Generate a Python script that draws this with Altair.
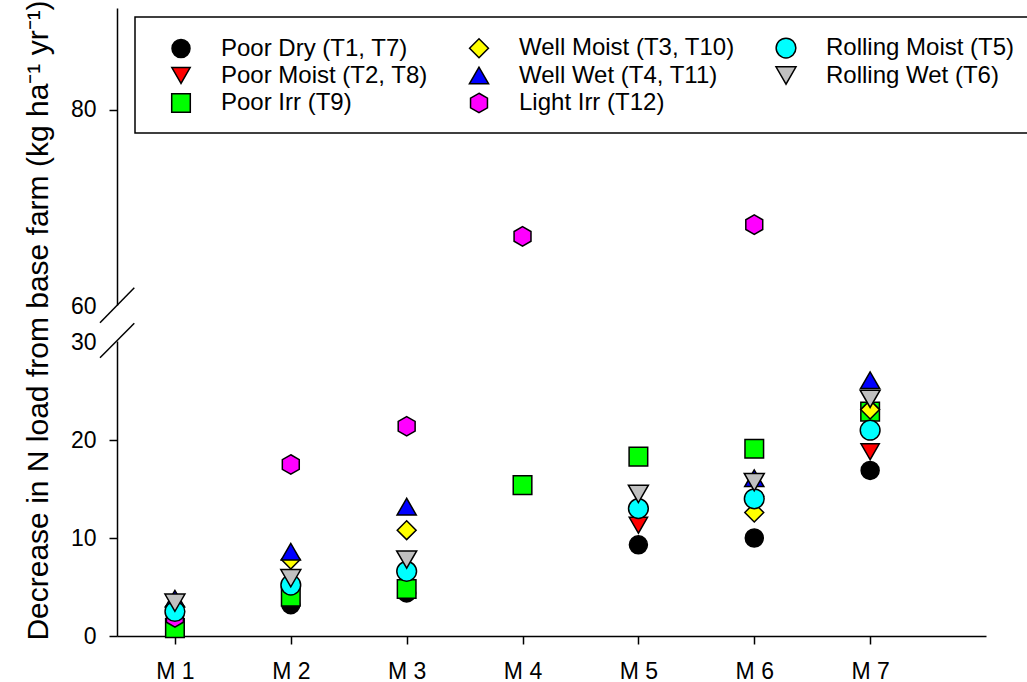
import json
import altair as alt
import pandas as pd

# Management scenarios on the x axis
stages = ["M 1", "M 2", "M 3", "M 4", "M 5", "M 6", "M 7"]

# Farm types (legend entries), in plotting order
series = [
    "Poor Dry (T1, T7)",
    "Poor Moist (T2, T8)",
    "Poor Irr (T9)",
    "Well Moist (T3, T10)",
    "Well Wet (T4, T11)",
    "Light Irr (T12)",
    "Rolling Moist (T5)",
    "Rolling Wet (T6)",
]

# Decrease in N load (kg/ha/yr) per scenario; None = not reported
poor_dry = [None, 3.2, 4.4, None, 9.3, 10.0, 16.9]
poor_moist = [None, None, None, None, 11.3, 13.4, 18.8]
poor_irr = [0.8, 4.0, 4.8, 15.4, 18.3, 19.1, 22.9]
well_moist = [3.0, 7.8, 10.8, None, None, 12.6, 23.1]
well_wet = [3.8, 8.6, 13.2, None, None, 16.1, 26.1]
light_irr = [1.9, 17.5, 21.4, 67.1, None, 68.3, None]
rolling_moist = [2.5, 5.2, 6.6, None, 13.0, 14.0, 21.0]
rolling_wet = [3.4, 5.9, 7.8, None, 14.5, 15.7, 24.2]

values = [poor_dry, poor_moist, poor_irr, well_moist, well_wet,
          light_irr, rolling_moist, rolling_wet]

fills = ["#000000", "#ff0000", "#00ff00", "#ffff00", "#0000ff",
         "#ff00ff", "#00ffff", "#c0c0c0"]
hexagon = "M0,-1L0.87,-0.5L0.87,0.5L0,1L-0.87,0.5L-0.87,-0.5Z"
shapes = ["circle", "triangle-down", "square", "diamond", "triangle-up",
          hexagon, "circle", "triangle-down"]
sizes = [324, 400, 256, 430, 400, 361, 324, 400]

rows = []
for name, vals in zip(series, values):
    for i, v in enumerate(vals):
        if v is not None:
            rows.append({"series": name, "stage": i + 1, "value": v})
df = pd.DataFrame(rows)

W, H = 869, 628
# broken y axis: 0-30 and 60-90 share the same units per pixel
y_scale = alt.Scale(domain=[0, 30, 60, 90.4], range=[H, 334, 298, 0])
x_scale = alt.Scale(domain=[0.5, 8], nice=False, zero=False)

color_scale = alt.Scale(domain=series, range=fills)
shape_scale = alt.Scale(domain=series, range=shapes)
size_scale = alt.Scale(domain=series, range=sizes)

# three columns, filled top to bottom
legend = alt.Legend(
    title=None,
    orient="none",
    legendX=52,
    legendY=28,
    columns=3,
    labelFont="Liberation Sans",
    labelFontSize=24,
    labelColor="black",
    labelOffset=28,
    columnPadding=38,
    rowPadding=2.5,
    symbolStrokeColor="black",
    symbolStrokeWidth=1.5,
    labelLimit=400,
)

label_expr = json.dumps(stages) + "[datum.value - 1]"

points = alt.Chart(df).mark_point(
    filled=True, opacity=1, stroke="black", strokeWidth=1.5
).encode(
    x=alt.X("stage:Q", scale=x_scale,
            axis=alt.Axis(title=None, values=list(range(1, 8)),
                          labelExpr=label_expr, grid=False, labelPadding=16)),
    y=alt.Y("value:Q", scale=y_scale,
            axis=alt.Axis(
                title="Decrease in N load from base farm (kg ha\u207b\u00b9  yr\u207b\u00b9)",
                values=[0, 10, 20, 30, 60, 80], grid=False, labelPadding=13,
                tickOpacity={"condition": {"test": "datum.value == 30 || datum.value == 60",
                                           "value": 0}, "value": 1},
                titleX=-79, titleY=312, titleAngle=270,
                titleAlign="center", titleBaseline="middle",
                titleFont="Liberation Sans", titleFontSize=30,
                titleFontWeight="normal", titleColor="black")),
    color=alt.Color("series:N", scale=color_scale, legend=legend),
    shape=alt.Shape("series:N", scale=shape_scale, legend=legend),
    size=alt.Size("series:N", scale=size_scale, legend=legend),
)

one = pd.DataFrame({"k": [0]})

# legend frame
frame = alt.Chart(one).mark_rect(
    fill="white", stroke="black", strokeWidth=1.5
).encode(x=alt.value(18), x2=alt.value(912), y=alt.value(9), y2=alt.value(125))

# gap in the y axis line between the two segments
gap = alt.Chart(one).mark_rect(fill="white").encode(
    x=alt.value(-3), x2=alt.value(3), y=alt.value(297.5), y2=alt.value(333.5))

# break marks
breaks = pd.DataFrame({"x": [-17, -17], "x2": [17.3, 17.3],
                       "y": [314.7, 349.7], "y2": [279.7, 315.3]})
slashes = alt.Chart(breaks).mark_rule(color="black", strokeWidth=1.5).encode(
    x=alt.X("x:Q", scale=None), x2="x2:Q",
    y=alt.Y("y:Q", scale=None), y2="y2:Q")

chart = alt.layer(frame, gap, slashes, points).properties(
    width=W, height=H,
    autosize=alt.AutoSizeParams(type="none"),
    padding={"left": 117, "top": 8, "right": 41, "bottom": 46},
    background="white",
).configure_view(stroke=None).configure_axis(
    domainColor="black", domainWidth=1.5,
    tickColor="black", tickWidth=1.5, tickSize=8,
    labelFont="Liberation Sans", labelFontSize=23, labelColor="black",
)

chart.save("out.html", embed_options={"renderer": "svg", "actions": False})
